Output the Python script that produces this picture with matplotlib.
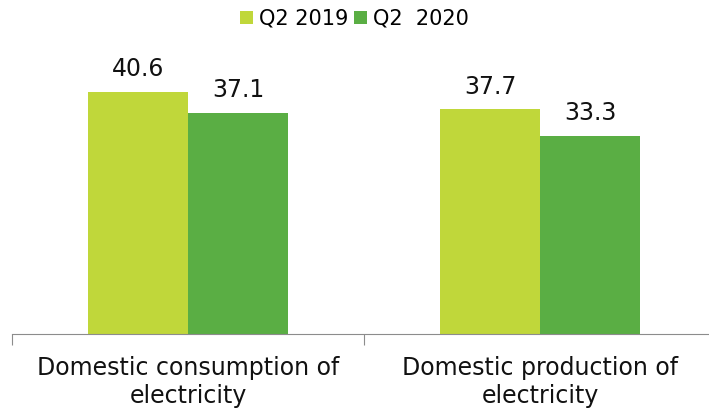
import matplotlib
matplotlib.use("Agg")
import matplotlib.pyplot as plt
import numpy as np

categories = ["Domestic consumption of\nelectricity", "Domestic production of\nelectricity"]
series_names = ["Q2 2019", "Q2  2020"]
q2_2019 = [40.6, 37.7]
q2_2020 = [37.1, 33.3]
colors = ["#c0d73a", "#5aae44"]

fig = plt.figure(figsize=(7.09, 4.09), dpi=100)
W, H = 709, 409
ax = fig.add_axes([12 / W, (H - 334) / H, 704 / W, (334 - 36) / H])

x = np.arange(len(categories))
bw = 0.284
for i, (vals, name, c) in enumerate(zip([q2_2019, q2_2020], series_names, colors)):
    pos = x + (i - 0.5) * bw
    ax.bar(pos, vals, width=bw, color=c, label=name)
    for p, v in zip(pos, vals):
        ax.text(p, v + 1.8, f"{v:.1f}", ha="center", va="bottom", fontsize=17, color="#111111")

ax.set_xlim(-0.5, 1.5)
ax.set_ylim(0, 50)
ax.set_yticks([])
for s in ["top", "right", "left"]:
    ax.spines[s].set_visible(False)
ax.spines["bottom"].set_color("#8c8c8c")
ax.set_xticks([-0.5, 0.5, 1.5], minor=False)
ax.set_xticklabels([])
ax.tick_params(axis="x", direction="out", length=8, color="#8c8c8c")
for xi, lab in zip(x, categories):
    ax.text(xi, -3.7, lab, ha="center", va="top", fontsize=17, color="#111111", linespacing=1.2)

fig.legend(loc="upper center", bbox_to_anchor=(0.5, 1.025), ncol=2, frameon=False, fontsize=15,
           handlelength=0.6, handleheight=0.6, handletextpad=0.3, columnspacing=0.3)

fig.savefig("out.png", dpi=100)
